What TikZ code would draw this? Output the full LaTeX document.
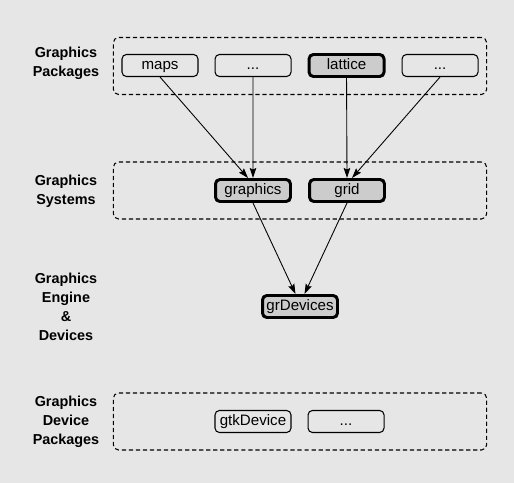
\documentclass[tikz,border=0pt]{standalone}
\usepackage{fontspec}
\setmainfont{Liberation Sans}
\usetikzlibrary{arrows.meta,positioning}
\definecolor{bggray}{HTML}{E6E6E6}
\definecolor{boxgray}{HTML}{CCCCCC}
\tikzset{
  pkgbox/.style={draw, line width=0.6pt, rounded corners=2.5pt,
                 minimum width=1.52cm, minimum height=0.44cm,
                 text height=6.2pt, text depth=1.8pt,
                 inner sep=1pt, font=\fontsize{8.6}{10}\selectfont},
  sysbox/.style={pkgbox, line width=1.7pt, fill=boxgray,
                 minimum width=1.5cm, minimum height=0.44cm},
  layerbox/.style={draw, line width=0.6pt, dash pattern=on 2.4pt off 1.6pt,
                   rounded corners=3pt, minimum width=7.47cm,
                   minimum height=1.14cm},
  layerlabel/.style={font=\fontsize{8.2}{10.8}\selectfont\bfseries, align=center},
  deparr/.style={-{Stealth[length=2mm, width=1.3mm, inset=0.3mm]}, line width=0.5pt}
}

\begin{document}
\begin{tikzpicture}[x=0.02cm, y=-0.02cm, node distance=0.32cm]
  \useasboundingbox[fill=bggray] (0,0) rectangle (514,483);

  % layers
  \node[layerbox] (pkglayer) at (300,66) {};
  \node[layerbox] (syslayer) at (300,190.5) {};
  \node[layerbox] (devlayer) at (300,421.5) {};

  \node[layerlabel] (pkglabel) at (66,63.5) {Graphics\\Packages};
  \node[layerlabel] (syslabel) at (66,191) {Graphics\\Systems};
  \node[layerlabel] (englabel) at (66,306.5) {Graphics\\Engine\\\&\\Devices};
  \node[layerlabel] (devlabel) at (66,421.5) {Graphics\\Device\\Packages};

  % graphics packages
  \node[pkgbox] (maps) at (160,65.5) {maps};
  \node[pkgbox, right=of maps] (pkgdotsa) {...};
  \node[sysbox, right=of pkgdotsa] (lattice) {lattice};
  \node[pkgbox, right=of lattice] (pkgdotsb) {...};

  % graphics systems
  \node[sysbox] (graphics) at (253,190.5) {graphics};
  \node[sysbox] (grid) at (347,190.5) {grid};

  % engine
  \node[sysbox] (grdev) at (300,306.5) {grDevices};

  % device packages
  \node[pkgbox] (gtkdev) at (253,421.5) {gtkDevice};
  \node[pkgbox, right=of gtkdev] (devdots) {...};

  \draw[deparr] (maps.south) -- ([xshift=-0.1cm]graphics.north);
  \draw[deparr] (pkgdotsa.south) -- (graphics.north);
  \draw[deparr] (lattice.south) -- (grid.north);
  \draw[deparr] (pkgdotsb.south) -- ([xshift=0.1cm]grid.north);
  \draw[deparr] (graphics.south) -- ([xshift=-0.09cm]grdev.north);
  \draw[deparr] (grid.south) -- ([xshift=0.09cm]grdev.north);
\end{tikzpicture}
\end{document}
